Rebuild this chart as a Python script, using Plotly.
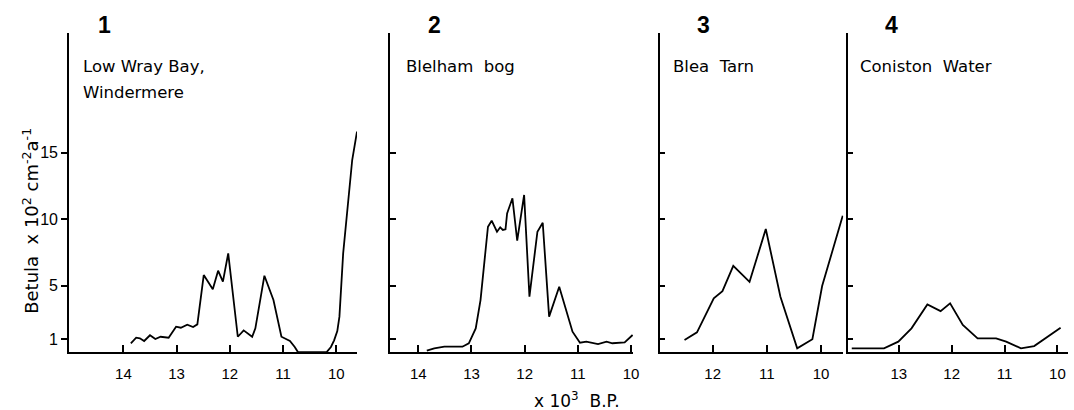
import plotly.graph_objects as go

W, H = 1074, 410

# ---- data ----
p1_t = [13.86, 13.76, 13.69, 13.61, 13.50, 13.40, 13.30, 13.23, 13.15, 13.01, 12.92, 12.80,
        12.69, 12.61, 12.49, 12.32, 12.22, 12.13, 12.03, 11.85, 11.74, 11.58, 11.52, 11.35,
        11.18, 11.03, 10.87, 10.78, 10.72, 10.18, 10.10, 10.04, 9.98, 9.94, 9.87, 9.70, 9.61]
p1_v = [0.68, 1.10, 1.05, 0.85, 1.28, 1.00, 1.17, 1.13, 1.10, 1.93, 1.85, 2.08,
        1.90, 2.10, 5.81, 4.74, 6.14, 5.31, 7.44, 1.17, 1.65, 1.17, 1.80, 5.76,
        3.93, 1.17, 0.85, 0.40, 0.02, 0.02, 0.40, 0.90, 1.60, 2.68, 7.44, 14.46, 16.60]

p2_t = [13.84, 13.70, 13.51, 13.33, 13.17, 13.05, 12.92, 12.83, 12.69, 12.62, 12.52, 12.46,
        12.41, 12.36, 12.33, 12.23, 12.14, 12.01, 11.91, 11.76, 11.66, 11.54, 11.35, 11.10,
        10.96, 10.84, 10.74, 10.62, 10.46, 10.35, 10.12, 9.97]
p2_v = [0.12, 0.30, 0.42, 0.42, 0.42, 0.68, 1.80, 3.93, 9.44, 9.90, 9.07, 9.40,
        9.20, 9.25, 10.45, 11.58, 8.39, 11.83, 4.18, 9.07, 9.74, 2.68, 4.93, 1.55,
        0.72, 0.80, 0.72, 0.62, 0.80, 0.68, 0.75, 1.30]

p3_t = [12.52, 12.29, 11.98, 11.82, 11.62, 11.32, 11.02, 10.75, 10.44, 10.16, 9.98, 9.60]
p3_v = [0.92, 1.50, 4.06, 4.60, 6.50, 5.30, 9.27, 4.18, 0.30, 0.98, 4.98, 10.27]

p4_t = [13.89, 13.55, 13.28, 13.01, 12.76, 12.46, 12.21, 12.03, 11.79, 11.51, 11.16, 10.97,
        10.69, 10.44, 9.94]
p4_v = [0.30, 0.27, 0.30, 0.80, 1.80, 3.60, 3.10, 3.68, 2.05, 1.05, 1.05, 0.80,
        0.30, 0.47, 1.85]

panel_numbers = ["1", "2", "3", "4"]
site_names = [["Low Wray Bay,", "Windermere"], ["Blelham  bog"], ["Blea  Tarn"], ["Coniston  Water"]]
x_ticks = [[14, 13, 12, 11, 10], [14, 13, 12, 11, 10], [12, 11, 10], [13, 12, 11, 10]]
y_ticks = [1, 5, 10, 15]
y_title = "Betula  x 10<sup>2</sup> cm<sup>-2</sup>a<sup>-1</sup>"
x_title = "x 10<sup>3</sup>  B.P."

series = [(p1_t, p1_v), (p2_t, p2_v), (p3_t, p3_v), (p4_t, p4_v)]

# ---- layout geometry ----
dom_px = [(69.5, 359), (392.3, 636.7), (663.3, 848), (852.3, 1074)]
x_ranges = [[15.02, 9.61], [14.53, 9.96], [12.98, 9.59], [13.97, 9.80]]
y_top, y_bot = 32.5, 352.3
y_dom = [1 - y_bot / H, 1 - y_top / H]
y_range = [0, 24.05]

num_pos = [(105, 25), (437, 25), (707, 25), (897, 25)]
site_pos = [(81.7, 66.5), (406.7, 66.5), (675, 66.5), (863.3, 66.5)]

FONT = "DejaVu Sans"
TICKFONT = "Liberation Sans"

fig = go.Figure()
layout = dict(width=W, height=H, margin=dict(l=0, r=0, t=0, b=0),
              paper_bgcolor="white", plot_bgcolor="white", showlegend=False)

for i, (t, v) in enumerate(series):
    k = "" if i == 0 else str(i + 1)
    fig.add_trace(go.Scatter(x=t, y=v, mode="lines", line=dict(color="black", width=1.8),
                             xaxis="x" + k, yaxis="y" + k, hoverinfo="skip"))
    d0, d1 = dom_px[i]
    layout["xaxis" + k] = dict(domain=[d0 / W, d1 / W], range=x_ranges[i], anchor="y" + k,
                               showgrid=False, zeroline=False, showline=True,
                               linecolor="black", linewidth=1.8,
                               ticks="inside", ticklen=7, tickwidth=1.5, tickcolor="black",
                               tickmode="array", tickvals=x_ticks[i],
                               ticktext=[str(x) for x in x_ticks[i]],
                               tickfont=dict(family=TICKFONT, size=15, color="black"),
                               ticklabelstandoff=7)
    layout["yaxis" + k] = dict(domain=y_dom, range=y_range, anchor="x" + k,
                               showgrid=False, zeroline=False, showline=True,
                               linecolor="black", linewidth=1.8,
                               ticks="outside" if i == 0 else "inside",
                               ticklen=6, tickwidth=1.5, tickcolor="black",
                               tickmode="array", tickvals=y_ticks,
                               showticklabels=(i == 0),
                               tickfont=dict(family=TICKFONT, size=16, color="black"))

annotations = []
for i in range(4):
    nx, ny = num_pos[i]
    annotations.append(dict(text="<b>%s</b>" % panel_numbers[i], x=nx / W, y=1 - ny / H,
                            xref="paper", yref="paper", showarrow=False,
                            xanchor="center", yanchor="middle",
                            font=dict(family="Liberation Sans", size=23, color="black")))
    sx, sy = site_pos[i]
    for j, line in enumerate(site_names[i]):
        annotations.append(dict(text=line, x=sx / W, y=1 - (sy + 26.5 * j) / H,
                                xref="paper", yref="paper", showarrow=False,
                                xanchor="left", yanchor="middle",
                                font=dict(family=FONT, size=16.5, color="black")))

annotations.append(dict(text=y_title, x=31 / W, y=1 - 221 / H, xref="paper", yref="paper",
                        showarrow=False, textangle=-90, xanchor="center", yanchor="middle",
                        font=dict(family=FONT, size=18, color="black")))
annotations.append(dict(text=x_title, x=580 / W, y=1 - 400 / H, xref="paper", yref="paper",
                        showarrow=False, xanchor="center", yanchor="middle",
                        font=dict(family=FONT, size=17, color="black")))
layout["annotations"] = annotations

fig.update_layout(**layout)
fig.write_html("out.html")
